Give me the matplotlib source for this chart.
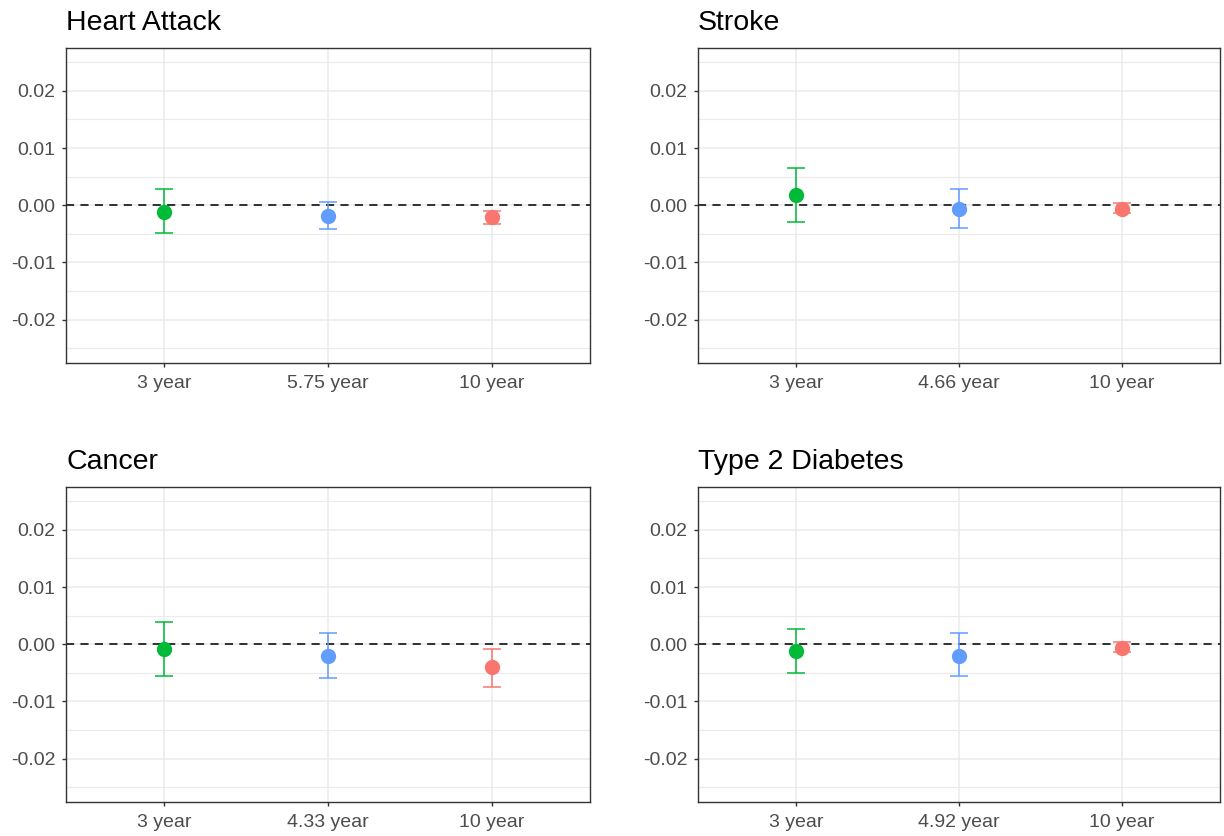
import numpy as np
import matplotlib
matplotlib.use("Agg")
import matplotlib.pyplot as plt
from matplotlib.ticker import FixedLocator, FormatStrFormatter

plt.rcParams['font.family'] = ['Liberation Sans', 'DejaVu Sans']
plt.rcParams['axes.unicode_minus'] = False

titles = ["Heart Attack", "Stroke", "Cancer", "Type 2 Diabetes"]
labels = [
    ["3 year", "5.75 year", "10 year"],
    ["3 year", "4.66 year", "10 year"],
    ["3 year", "4.33 year", "10 year"],
    ["3 year", "4.92 year", "10 year"],
]
est = [
    [-0.0012, -0.0018, -0.0021],
    [0.0017, -0.0006, -0.0006],
    [-0.0009, -0.0020, -0.0040],
    [-0.0012, -0.0020, -0.0006],
]
lower = [
    [-0.0049, -0.0041, -0.0032],
    [-0.0029, -0.0040, -0.0014],
    [-0.0056, -0.0059, -0.0074],
    [-0.0050, -0.0056, -0.0014],
]
upper = [
    [0.0028, 0.0005, -0.0010],
    [0.0065, 0.0028, 0.0004],
    [0.0038, 0.0019, -0.0009],
    [0.0027, 0.0019, 0.0004],
]
colors = ["#00BA38", "#619CFF", "#F8766D"]

W, H = 1224, 836
fig = plt.figure(figsize=(W / 100, H / 100), dpi=100)

# panel boxes in pixels: left, top, right, bottom
boxes = [
    (66, 48, 590, 363),
    (698, 48, 1220, 363),
    (66, 487, 590, 802),
    (698, 487, 1220, 802),
]

for k in range(4):
    l, t, r, b = boxes[k]
    ax = fig.add_axes([l / W, 1 - b / H, (r - l) / W, (b - t) / H])
    x = np.arange(1, 4)
    ax.set_xlim(0.4, 3.6)
    ax.set_ylim(-0.0276, 0.0275)

    ax.yaxis.set_major_locator(FixedLocator([-0.02, -0.01, 0.0, 0.01, 0.02]))
    ax.yaxis.set_minor_locator(FixedLocator([-0.025, -0.015, -0.005, 0.005, 0.015, 0.025]))
    ax.yaxis.set_major_formatter(FormatStrFormatter('%.2f'))
    ax.set_xticks(x)
    ax.set_xticklabels(labels[k])

    ax.grid(True, which='major', color='#EBEBEB', lw=1.1)
    ax.grid(True, which='minor', axis='y', color='#EBEBEB', lw=0.8)
    ax.set_axisbelow(True)

    ax.axhline(0, color='#222222', lw=1.3, ls=(0, (4.5, 3.5)), zorder=2)

    for i in range(3):
        e = est[k][i]
        ax.errorbar(x[i], e,
                    yerr=[[e - lower[k][i]], [upper[k][i] - e]],
                    fmt='o', color=colors[i], ms=10, elinewidth=1.1,
                    capsize=6.3, capthick=1.1, zorder=3)

    for s in ax.spines.values():
        s.set_color('#333333')
        s.set_linewidth(1.0)

    ax.tick_params(axis='both', which='major', labelsize=14, labelcolor='#4D4D4D',
                   color='#333333', length=3.2, width=1.0)
    ax.tick_params(axis='x', which='major', pad=5.5)
    ax.tick_params(axis='y', which='major', pad=4.5)
    ax.tick_params(axis='y', which='minor', length=0)

    ax.set_title(titles[k], loc='left', fontsize=20.5, pad=13, color='black')

fig.savefig("out.png", dpi=100)
